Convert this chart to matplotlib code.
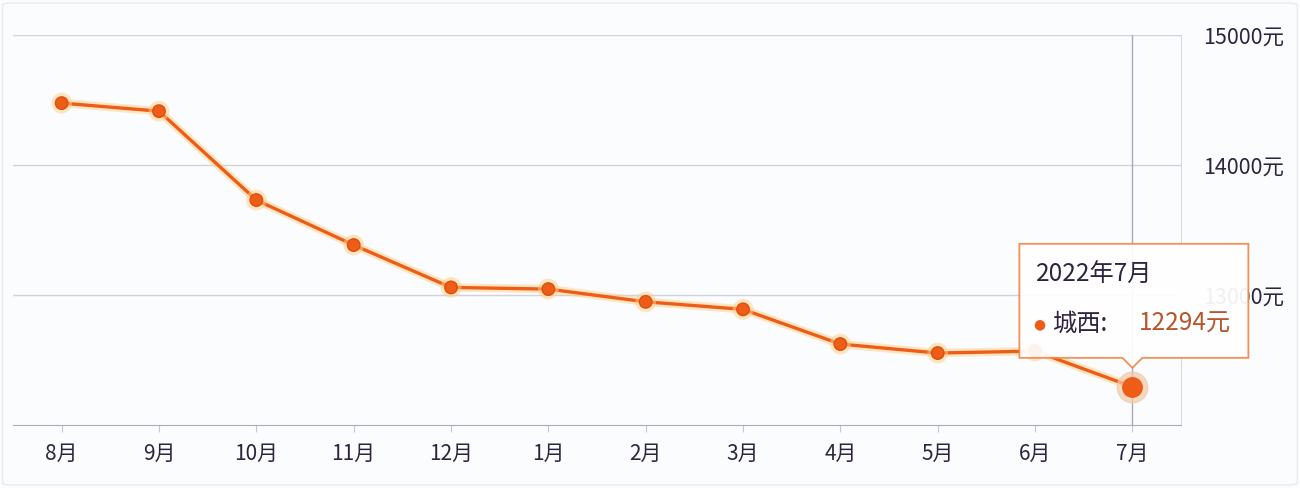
import matplotlib
matplotlib.use("Agg")
import matplotlib.pyplot as plt
import matplotlib.patheffects as pe
from matplotlib.patches import Polygon, FancyBboxPatch
from matplotlib.transforms import Affine2D, ScaledTranslation

plt.rcParams['font.family'] = ['Noto Sans CJK SC', 'DejaVu Sans']

# data
months = ['8月', '9月', '10月', '11月', '12月', '1月', '2月', '3月', '4月', '5月', '6月', '7月']
prices = [14477, 14415, 13731, 13385, 13059, 13046, 12948, 12890, 12623, 12554, 12569, 12294]
y_ticks = [13000, 14000, 15000]
tip_title = '2022年7月'
tip_series = '城西'

line_col = '#ee5d18'
text_col = '#2e2440'
grid_col = '#cfd3de'

fig = plt.figure(figsize=(13, 4.88), dpi=100)
fig.patch.set_facecolor('#fbfcfe')
# faint outer frame of the widget
fig.patches.append(FancyBboxPatch((0.002, 0.006), 0.996, 0.988,
                                  boxstyle='round,pad=0,rounding_size=0.006',
                                  transform=fig.transFigure, facecolor='none',
                                  edgecolor='#e8eaf0', lw=1.0))
ax = fig.add_axes([0.01, 0.129, 0.8985, 0.799])
ax.set_facecolor('#fbfcfe')

x = list(range(len(months)))
ax.set_xlim(-0.5, len(months) - 0.5)
ax.set_ylim(12000, 15000)

# grid
for t in y_ticks:
    ax.axhline(t, color=grid_col, lw=1.0, zorder=1)
for s in ['top', 'left']:
    ax.spines[s].set_visible(False)
ax.spines['bottom'].set_color('#a9adb8')
ax.spines['right'].set_color('#d6d9e2')
ax.spines['right'].set_bounds(12000, 15000)

ax.set_xticks(x)
ax.set_xticklabels(months, fontsize=15, color=text_col)
ax.tick_params(axis='x', length=5, color='#c4c7d0', pad=8)
ax.yaxis.tick_right()
ax.set_yticks(y_ticks)
ax.set_yticklabels([f'{t}元' for t in y_ticks], fontsize=15.5, color=text_col)
ax.tick_params(axis='y', length=0, pad=16)

# crosshair on the last point
ax.axvline(x[-1], color='#aaa7bb', lw=1.0, zorder=2)

glow = [pe.Stroke(linewidth=6, foreground='#ffcf88', alpha=0.5), pe.Normal()]
ax.plot(x, prices, color=line_col, lw=2.4, zorder=3, path_effects=glow,
        marker='o', markersize=9, markerfacecolor=line_col,
        markeredgecolor='#d9500f', markeredgewidth=1)
ax.plot(x[-1], prices[-1], 'o', markersize=22, color='#f3c9a8', alpha=0.7, zorder=4)
ax.plot(x[-1], prices[-1], 'o', markersize=14, color=line_col, zorder=5)

# tooltip
tr = Affine2D() + ScaledTranslation(x[-1], prices[-1], ax.transData)
verts = [(-113, 29), (-113, 143), (116, 143), (116, 29), (10, 29), (0, 19), (-10, 29)]
tip = Polygon(verts, closed=True, transform=tr, facecolor='white', alpha=0.93,
              edgecolor='#f08a4a', lw=1.3, zorder=6, clip_on=False)
ax.add_patch(tip)
ax.text(-96, 112, tip_title, transform=tr, fontsize=17.5, color=text_col,
        va='center', ha='left', zorder=7)
ax.text(-93, 63, '●', transform=tr, fontsize=10, color=line_col,
        va='center', ha='center', zorder=7, family='DejaVu Sans')
ax.text(-80, 63, tip_series + ':', transform=tr, fontsize=17.5, color=text_col,
        va='center', ha='left', zorder=7)
ax.text(6, 63, f'{prices[-1]}元', transform=tr, fontsize=17.5, color='#b8552a',
        va='center', ha='left', zorder=7)

fig.savefig('out.png', dpi=100, facecolor=fig.get_facecolor())
